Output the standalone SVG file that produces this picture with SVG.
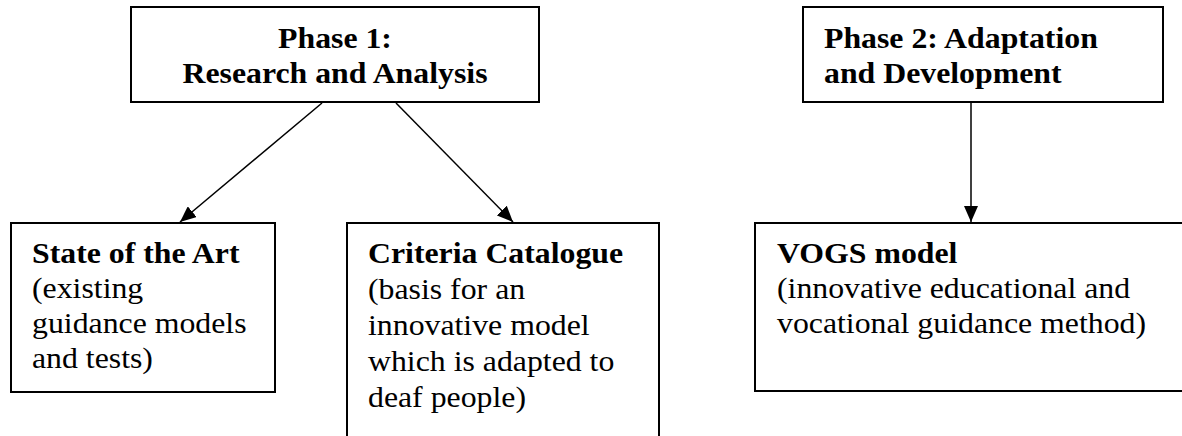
<svg xmlns="http://www.w3.org/2000/svg" width="1182" height="436" viewBox="0 0 1182 436">
<style>
.box{fill:#fff;stroke:#000;stroke-width:2}
.t{font-family:"Liberation Serif","Times New Roman",serif;font-size:30px;fill:#000}
.b{font-weight:bold}
.c{stroke:#000;stroke-width:1.5;fill:none;marker-end:url(#ah)}
</style>
<defs>
<marker id="ah" viewBox="0 0 16 14" refX="16" refY="7" markerWidth="16" markerHeight="14" orient="auto" markerUnits="userSpaceOnUse">
<path d="M0,0 L16,7 L0,14 z" fill="#000"/>
</marker>
</defs>
<rect width="1182" height="436" fill="#fff"/>
<g id="connectors">
<line class="c" x1="322" y1="103" x2="180" y2="222"/>
<line class="c" x1="396" y1="103" x2="513" y2="222"/>
<line class="c" x1="971" y1="103" x2="971" y2="222"/>
</g>
<g id="phase1">
<rect class="box" x="131" y="7" width="408" height="95"/>
<text class="t b" text-anchor="middle" transform="translate(335,48) scale(1.06,1)"><tspan x="0" y="0">Phase 1:</tspan><tspan x="0" y="35">Research and Analysis</tspan></text>
</g>
<g id="phase2">
<rect class="box" x="803" y="7" width="360" height="95"/>
<text class="t b" transform="translate(824,48) scale(1.06,1)"><tspan x="0" y="0">Phase 2: Adaptation</tspan><tspan x="0" y="35">and Development</tspan></text>
</g>
<g id="state">
<rect class="box" x="11" y="223" width="264" height="169"/>
<text class="t" transform="translate(32,263) scale(1.06,1)"><tspan class="b" x="0" y="0">State of the Art</tspan><tspan x="0" y="35">(existing</tspan><tspan x="0" y="70">guidance models</tspan><tspan x="0" y="105">and tests)</tspan></text>
</g>
<g id="criteria">
<rect class="box" x="347" y="223" width="312" height="230"/>
<text class="t" transform="translate(368,263) scale(1.06,1)"><tspan class="b" x="0" y="0">Criteria Catalogue</tspan><tspan x="0" y="36">(basis for an</tspan><tspan x="0" y="72">innovative model</tspan><tspan x="0" y="108">which is adapted to</tspan><tspan x="0" y="144">deaf people)</tspan></text>
</g>
<g id="vogs">
<rect class="box" x="755" y="223" width="440" height="168"/>
<text class="t" transform="translate(777,263) scale(1.06,1)"><tspan class="b" x="0" y="0">VOGS model</tspan><tspan x="0" y="35">(innovative educational and</tspan><tspan x="0" y="70">vocational guidance method)</tspan></text>
</g>
</svg>
